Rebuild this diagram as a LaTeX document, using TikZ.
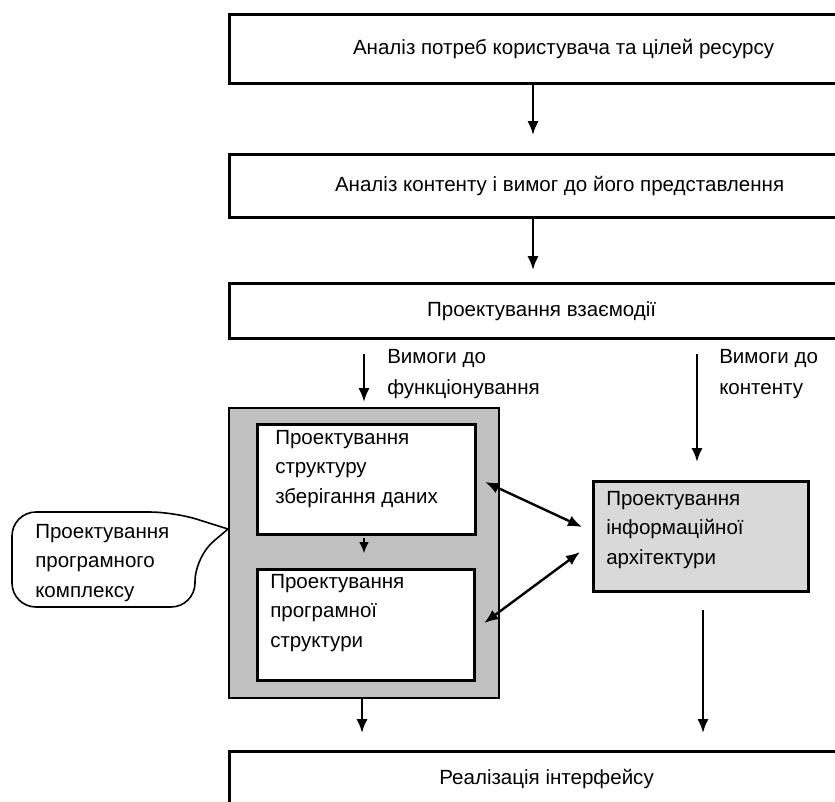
\documentclass[tikz,border=0pt]{standalone}
\usepackage{fontspec}
\setmainfont{Liberation Sans}
\usetikzlibrary{arrows.meta,calc}
\begin{document}
\begin{tikzpicture}[x=0.75pt,y=-0.75pt,
  sz/.style 2 args={minimum width=#1*0.75pt, minimum height=#2*0.75pt},
  box/.style={draw, line width=2.4pt, fill=white, inner sep=0pt, anchor=north west,
    font=\fontsize{15.4}{21.7}\selectfont},
  txt/.style={font=\fontsize{15.4}{21.9}\selectfont, inner sep=0pt, align=left, anchor=west},
  arr/.style={line width=1.8pt, -{Latex[length=10.5pt,width=8.5pt]}},
  sarr/.style={line width=1.6pt, -{Latex[length=8.5pt,width=7.5pt]}},
  darr/.style={line width=1.8pt, {Latex[length=10.5pt,width=8.5pt]}-{Latex[length=10.5pt,width=8.5pt]}}]
\useasboundingbox (0,0) rectangle (835,801);
\clip (0,0) rectangle (835,801);

% main stages
\node[box, sz={668}{69}] (b1) at (228,13) {Аналіз потреб користувача та цілей ресурсу};
\node[box, sz={660}{63}] (b2) at (228,153) {Аналіз контенту і вимог до його представлення};
\node[box, sz={624}{55}] (b3) at (228,282) {Проектування взаємодії};
\node[box, sz={634}{54}] (b4) at (228,750) {Реалізація інтерфейсу};

% program complex
\node[box, line width=1.8pt, fill={rgb,255:red,192;green,192;blue,192}, sz={270}{290}] (outer) at (228,407) {};
\node[box, sz={218}{110}] (in1) at (256,423) {};
\node[box, sz={217}{111}] (in2) at (256,568) {};
\node[txt] (t1) at (275,469) {Проектування\\структуру\\зберігання даних};
\node[txt] (t2) at (270,613) {Проектування\\програмної\\структури};

% information architecture
\node[box, fill={rgb,255:red,217;green,217;blue,217}, sz={215}{110}] (info) at (592,480) {};
\node[txt] (t3) at (606,530) {Проектування\\інформаційної\\архітектури};

% labels
\node[txt, font=\fontsize{15.4}{23}\selectfont] (l1) at (387,374) {Вимоги до\\функціонування};
\node[txt, font=\fontsize{15.4}{23}\selectfont] (l2) at (719,374) {Вимоги до\\контенту};

% callout
\draw[line width=1.2pt, fill=white, rounded corners=24*0.75pt]
  (228,529) -- (195,557) -- (195,607) -- (12,607) -- (12,512) -- (174,512) -- (228,529);
\node[txt] (t4) at (35,563) {Проектування\\програмного\\комплексу};

% connectors
\draw[arr, shorten >=13.5pt] (533,0 |- b1.south) -- (533,0 |- b2.north);
\draw[arr, shorten >=9pt] (533,0 |- b2.south) -- (533,0 |- b3.north);
\draw[arr, shorten <=10.5pt, shorten >=3.75pt] (364,0 |- b3.south) -- (364,0 |- outer.north);
\draw[arr, shorten <=10.5pt, shorten >=13.5pt] (697,0 |- b3.south) -- (697,0 |- info.north);
\draw[sarr, shorten <=1.5pt, shorten >=11pt] (364,0 |- in1.south) -- (364,0 |- in2.north);
\draw[arr, shorten >=12.75pt] (362,0 |- outer.south) -- (362,0 |- b4.north);
\draw[arr, shorten <=12.75pt, shorten >=12.75pt] (703,0 |- info.south) -- (703,0 |- b4.north);
\draw[darr] ($(in1.north east)+(8,59)$) -- ($(info.north west)+(-10,47)$);
\draw[darr] ($(in2.north east)+(8,55)$) -- ($(info.north west)+(-12,72)$);
\end{tikzpicture}
\end{document}
